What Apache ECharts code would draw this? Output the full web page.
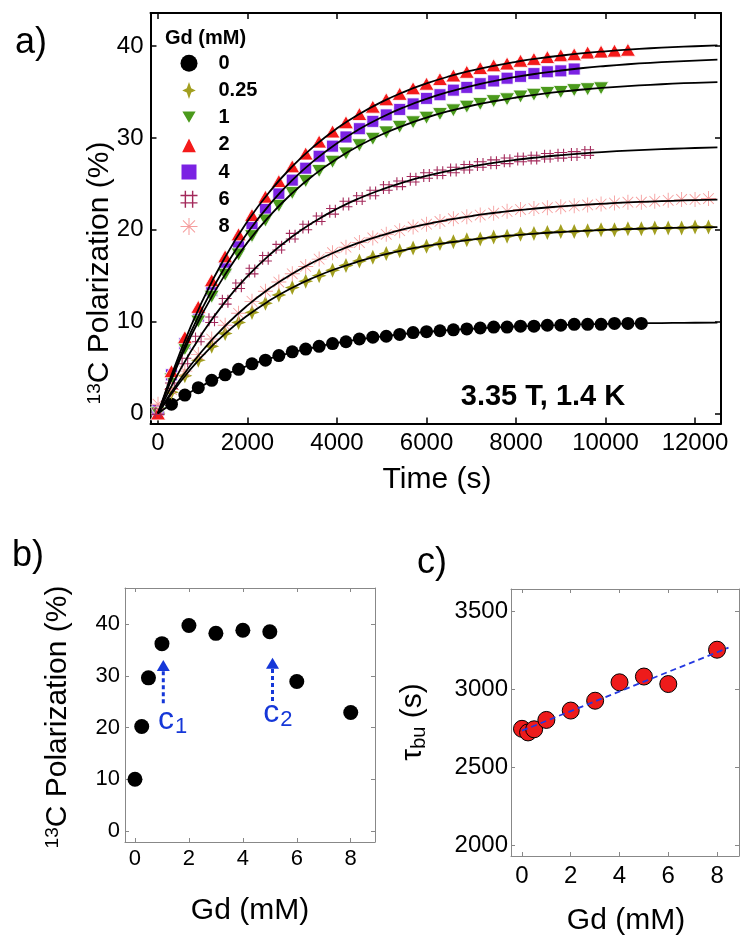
<!DOCTYPE html>
<html><head><meta charset="utf-8">
<script src="https://cdn.jsdelivr.net/npm/echarts@6/dist/echarts.min.js"></script>
<style>html,body{margin:0;padding:0;background:#fff}#c{width:751px;height:949px}</style>
</head><body><div id="c"></div>
<script>
// ---------- Panel a data ----------
const times = [0,300,600,900,1200,1500,1800,2100,2400,2700,3000,3300,3600,3900,4200,4500,4800,5100,5400,5700,6000,6300,6600,6900,7200,7500,7800,8100,8400,8700,9000,9300,9600,9900,10200,10500,10800,11100,11400,11700,12000,12300];
const gdNames = ['0','0.25','1','2','4','6','8'];
const pol0   = [0,1.0,2.0,2.8,3.6,4.2,4.8,5.4,5.8,6.3,6.7,7.0,7.3,7.6,7.8,8.1,8.3,8.4,8.6,8.8,8.9,9.0,9.1,9.2,9.3,9.4,9.4,9.5,9.5,9.6,9.6,9.7,9.7,9.7,9.8,9.8,9.8];
const pol025 = [0,2.3,4.1,5.8,7.3,8.7,9.9,11.0,12.0,12.9,13.7,14.4,15.0,15.6,16.1,16.6,17.0,17.4,17.7,18.0,18.2,18.5,18.7,18.9,19.0,19.2,19.3,19.5,19.6,19.7,19.8,19.8,19.9,20.0,20.0,20.1,20.1,20.2,20.2,20.2,20.3,20.3];
const pol1   = [0,3.7,7.0,10.0,12.7,15.1,17.3,19.3,21.0,22.6,24.0,25.3,26.4,27.4,28.3,29.2,29.9,30.6,31.2,31.7,32.2,32.6,33.0,33.4,33.7,34.0,34.2,34.5,34.7,34.9,35.0,35.2,35.3,35.4];
const pol2   = [0,4.6,8.3,11.6,14.5,17.1,19.5,21.6,23.6,25.3,26.9,28.3,29.6,30.7,31.7,32.6,33.4,34.2,34.8,35.4,35.9,36.4,36.8,37.2,37.6,37.9,38.1,38.4,38.6,38.8,39.0,39.1,39.3,39.4,39.5,39.6];
const pol4   = [0.3,4.2,7.6,10.6,13.4,16.0,18.3,20.3,22.2,23.9,25.4,26.7,28.0,29.1,30.1,31.0,31.8,32.5,33.1,33.7,34.3,34.7,35.2,35.5,35.9,36.2,36.5,36.7,37.0,37.2,37.3,37.5];
const pol6   = [0.2,3.0,5.7,8.1,10.2,12.2,13.9,15.5,16.9,18.1,19.3,20.3,21.2,22.0,22.8,23.4,24.0,24.6,25.0,25.5,25.9,26.2,26.5,26.8,27.1,27.3,27.5,27.7,27.8,28.0,28.1,28.2,28.4];
const pol8   = [1.0,2.6,4.6,6.4,8.1,9.6,10.9,12.2,13.3,14.3,15.2,16.0,16.8,17.5,18.1,18.6,19.1,19.5,19.9,20.3,20.6,20.9,21.2,21.4,21.6,21.8,22.0,22.2,22.3,22.4,22.5,22.6,22.7,22.8,22.9,23.0,23.0,23.1,23.2,23.3,23.3,23.4];
// fitted curves (black lines)
const fitTimes = [0,500,1000,1500,2000,2500,3000,3500,4000,4500,5000,5500,6000,6500,7000,7500,8000,8500,9000,9500,10000,10500,11000,11500,12000,12500];
const fit0   = [0,1.66,3.05,4.21,5.17,5.98,6.65,7.20,7.67,8.06,8.38,8.65,8.87,9.06,9.22,9.35,9.46,9.55,9.62,9.69,9.74,9.78,9.82,9.85,9.87,9.89];
const fit025 = [0,3.44,6.30,8.68,10.66,12.31,13.69,14.83,15.78,16.57,17.23,17.78,18.23,18.61,18.93,19.19,19.41,19.60,19.75,19.87,19.98,20.07,20.14,20.20,20.25,20.29];
const fit1   = [0,5.96,10.95,15.13,18.62,21.54,23.99,26.03,27.74,29.17,30.37,31.37,32.21,32.91,33.50,33.99,34.40,34.74,35.03,35.27,35.47,35.64,35.78,35.90,36.00,36.08];
const fit2   = [0,6.73,12.34,17.02,20.92,24.18,26.89,29.15,31.04,32.61,33.92,35.02,35.93,36.69,37.32,37.85,38.29,38.66,38.96,39.22,39.43,39.61,39.76,39.88,39.98,40.07];
const fit4   = [0,6.27,11.54,15.96,19.67,22.78,25.39,27.58,29.42,30.96,32.25,33.34,34.25,35.01,35.65,36.19,36.64,37.02,37.34,37.61,37.83,38.02,38.18,38.31,38.42,38.52];
const fit6   = [0,4.79,8.80,12.15,14.95,17.30,19.26,20.90,22.28,23.43,24.38,25.19,25.86,26.42,26.89,27.29,27.62,27.89,28.12,28.32,28.48,28.61,28.72,28.82,28.90,28.96];
const fit8   = [0,3.74,6.88,9.53,11.76,13.64,15.21,16.54,17.66,18.60,19.39,20.06,20.62,21.09,21.49,21.82,22.11,22.34,22.54,22.71,22.85,22.97,23.07,23.15,23.22,23.28];
const ticksA_x = [0,2000,4000,6000,8000,10000,12000];
const ticksA_y = [0,10,20,30,40];

// ---------- Panel b data ----------
const gdB  = [0,0.25,0.5,1,2,3,4,5,6,8];
const polB = [10.0,20.2,29.6,36.2,39.7,38.2,38.8,38.5,28.9,22.9];
const ticksB_x = [0,2,4,6,8];
const ticksB_y = [0,10,20,30,40];
const arrowC1 = [[1.05,24.7],[1.05,31.0]];
const arrowC2 = [[5.1,25.1],[5.1,31.4]];
const arrowHeads = [[1.05,32.0],[5.1,32.4]];
const labelC1 = [1.4,21.3];
const labelC2 = [5.3,22.6];

// ---------- Panel c data ----------
const gdC  = [0,0.25,0.5,1,2,3,4,5,6,8];
const tauC = [2745,2722,2742,2802,2862,2925,3043,3080,3032,3252];
const trendC = [[0,2733],[8.47,3265]];
const ticksC_x = [0,2,4,6,8];
const ticksC_y = [2000,2500,3000,3500];

const FONT = '"Liberation Sans", Arial, sans-serif';
const pair = (xs, ys) => ys.map((v, i) => [xs[i], v]);

function axis(gridIndex, position, min, max, ticks, o) {
  const main = position === 'bottom' || position === 'left';
  return {
    type: 'value', gridIndex, position, min, max,
    axisLine: {show: true, onZero: false, lineStyle: {color: o.lc, width: o.lw}},
    axisTick: {show: true, inside: true, length: o.tl, customValues: ticks, lineStyle: {color: o.tc, width: o.tw}},
    axisLabel: {show: main, customValues: ticks, formatter: v => String(v), fontSize: o.fs, fontFamily: FONT, color: '#000', margin: o.m},
    splitLine: {show: false}, minorTick: {show: false}
  };
}
const sA = {lc:'#000', lw:2, tl:6, tc:'#000', tw:1.5, fs:24, m:8};
const sAy = Object.assign({}, sA, {m:7});
const sB = {lc:'#888', lw:1, tl:4, tc:'#888', tw:1, fs:22, m:6};
const sBy = Object.assign({}, sB, {m:5});
const sC = {lc:'#888', lw:1, tl:4, tc:'#888', tw:1, fs:24, m:8};
const sCy = Object.assign({}, sC, {m:3});

const HASH = 'path://M-4.6,-9h1.5v18h-1.5z M3.1,-9h1.5v18h-1.5z M-9,-4.6h18v1.5h-18z M-9,3.1h18v1.5h-18z';
const AST = 'path://M-10,-0.6h20v1.2h-20z M-0.6,-10h1.2v20h-1.2z M-7.5,-6.7L-6.7,-7.5L7.5,6.7L6.7,7.5Z M6.7,-7.5L7.5,-6.7L-6.7,7.5L-7.5,6.7Z';
const STAR4 = 'path://M0,-10 L2.6,-2.6 L8,0 L2.6,2.6 L0,10 L-2.6,2.6 L-8,0 L-2.6,-2.6 Z';
const TRI_DOWN = 'path://M-10,-8.5 L10,-8.5 L0,8.5 Z';

const markerSpecs = [
  {name:'0',    data:pol0,   symbol:'circle',   size:13, color:'#000000'},
  {name:'0.25', data:pol025, symbol:STAR4,      size:15, color:'#a29f20'},
  {name:'4',    data:pol4,   symbol:'rect',     size:12, color:'#7b22e3', border:true},
  {name:'1',    data:pol1,   symbol:TRI_DOWN,   size:[15,13], color:'#4b9a1c', border:true},
  {name:'2',    data:pol2,   symbol:'triangle', size:[15,13], color:'#f41a1a', border:true},
  {name:'6',    data:pol6,   symbol:HASH,       size:13, color:'#a3285a'},
  {name:'8',    data:pol8,   symbol:AST,        size:15, color:'#f59d9d'}
];
const fits = [fit0, fit025, fit1, fit2, fit4, fit6, fit8];

const series = [];
markerSpecs.forEach(s => {
  series.push({
    name: s.name, type: 'scatter', xAxisIndex: 0, yAxisIndex: 0,
    data: pair(times, s.data), symbol: s.symbol, symbolSize: s.size,
    itemStyle: {color: s.color, borderColor: s.border ? '#fff' : s.color, borderWidth: s.border ? 0.8 : 0, opacity: 1},
    z: 3, silent: true
  });
});
fits.forEach(f => {
  series.push({
    type: 'line', xAxisIndex: 0, yAxisIndex: 0, data: pair(fitTimes, f),
    smooth: true, symbol: 'none', showSymbol: false,
    lineStyle: {color: '#000', width: 1.8}, z: 5, silent: true
  });
});
const BLUE = '#1537d8';
// panel b
series.push({type:'scatter', xAxisIndex:2, yAxisIndex:2, data: pair(gdB, polB), symbol:'circle', symbolSize:15, itemStyle:{color:'#000', opacity:1}, silent:true});
[arrowC1, arrowC2].forEach(a => series.push({type:'line', xAxisIndex:2, yAxisIndex:2, data:a, symbol:'none', lineStyle:{color:BLUE, width:3, type:[4,3], opacity:1}, silent:true}));
series.push({type:'scatter', xAxisIndex:2, yAxisIndex:2, data: arrowHeads, symbol:'triangle', symbolSize:[13,11], itemStyle:{color:BLUE, opacity:1}, silent:true});
series.push({type:'scatter', xAxisIndex:2, yAxisIndex:2, data:[
  {value: labelC1, label:{formatter:'{c|c}{s|1}'}},
  {value: labelC2, label:{formatter:'{c|c}{s|2}'}}
], symbolSize:0, silent:true, itemStyle:{opacity:1},
  label:{show:true, position:'inside', color:BLUE, opacity:1,
    rich:{c:{fontSize:32, fontFamily:FONT, color:BLUE, verticalAlign:'top'}, s:{fontSize:22, fontFamily:FONT, color:BLUE, verticalAlign:'bottom', padding:[12,0,0,1]}}}});
// panel c
series.push({type:'scatter', xAxisIndex:4, yAxisIndex:4, data: pair(gdC, tauC), symbol:'circle', symbolSize:17, itemStyle:{color:'#ee1b1b', borderColor:'#000', borderWidth:1, opacity:1}, silent:true, z:2});
series.push({type:'line', xAxisIndex:4, yAxisIndex:4, data: trendC, symbol:'none', lineStyle:{color:'#2438e0', width:1.8, type:[6,4]}, silent:true, z:4});

const txt = (x, y, text, size, extra) => Object.assign({type:'text', x, y, silent:true,
  style: Object.assign({text, fontSize:size, fontFamily:FONT, fill:'#000', align:'center', verticalAlign:'middle'}, extra || {})});

const option = {
  animation: false,
  backgroundColor: '#fff',
  grid: [
    {left:150.5, top:13, width:570.5, height:410.5},
    {left:125, top:588, width:250, height:254},
    {left:511, top:589, width:228, height:267}
  ],
  xAxis: [
    axis(0,'bottom',-168,12580,ticksA_x,sA), axis(0,'top',-168,12580,ticksA_x,sA),
    axis(1,'bottom',-0.37,8.9,ticksB_x,sB), axis(1,'top',-0.37,8.9,ticksB_x,sB),
    axis(2,'bottom',-0.45,8.9,ticksC_x,sC), axis(2,'top',-0.45,8.9,ticksC_x,sC)
  ],
  yAxis: [
    axis(0,'left',-1.1,43.6,ticksA_y,sAy), axis(0,'right',-1.1,43.6,ticksA_y,sAy),
    axis(1,'left',-2.13,46.96,ticksB_y,sBy), axis(1,'right',-2.13,46.96,ticksB_y,sBy),
    axis(2,'left',1930,3641,ticksC_y,sCy), axis(2,'right',1930,3641,ticksC_y,sCy)
  ],
  legend: {
    data: gdNames, orient:'vertical', left:179.5, top:53.2, padding:0, itemWidth:17, itemHeight:17, itemGap:7.2,
    textStyle:{fontSize:20, fontWeight:'bold', fontFamily:FONT, color:'#000', padding:[0,0,0,16], lineHeight:17},
    selectedMode:false
  },
  graphic: [
    txt(31, 43, 'a)', 36),
    txt(28, 556, 'b)', 36),
    txt(432, 563, 'c)', 36),
    txt(165, 38, 'Gd (mM)', 20, {align:'left', fontWeight:'bold'}),
    txt(543, 397, '3.35 T, 1.4 K', 29, {fontWeight:'bold'}),
    txt(437, 480, 'Time (s)', 30),
    txt(250, 911, 'Gd (mM)', 30),
    txt(626, 921, 'Gd (mM)', 30),
    Object.assign(txt(100, 273, '{sup|13}C Polarization (%)', 30, {rich:{sup:{fontSize:19, fontFamily:FONT, verticalAlign:'top'}}}), {rotation: Math.PI/2}),
    Object.assign(txt(58, 717, '{sup|13}C Polarization (%)', 30, {rich:{sup:{fontSize:19, fontFamily:FONT, verticalAlign:'top'}}}), {rotation: Math.PI/2}),
    Object.assign(txt(413, 722, '{t|τ}{sub|bu} (s)', 30, {rich:{t:{fontSize:30, fontFamily:FONT}, sub:{fontSize:20, fontFamily:FONT, verticalAlign:'bottom', padding:[12,0,0,0]}}}), {rotation: Math.PI/2})
  ],
  series
};
const chart = echarts.init(document.getElementById('c'), null, {renderer:'canvas'});
chart.setOption(option);
</script>
</body></html>
